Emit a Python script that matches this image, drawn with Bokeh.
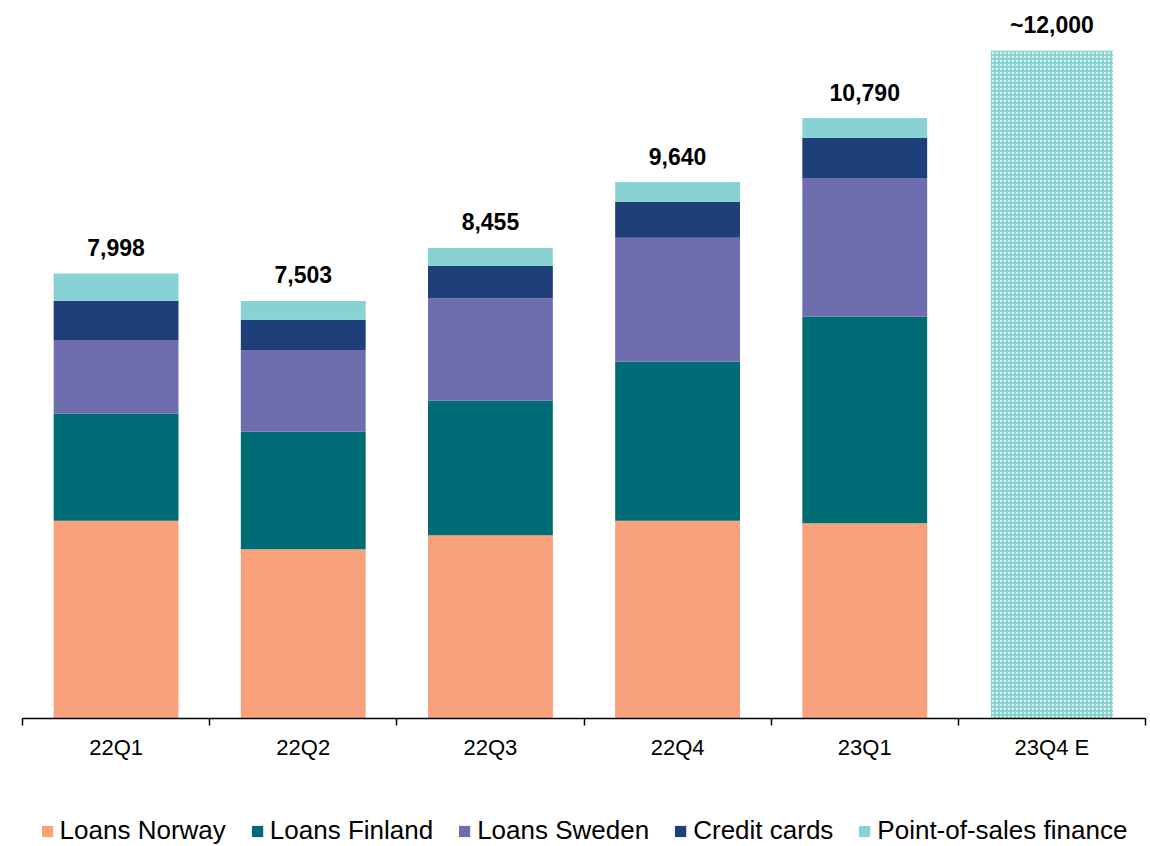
from bokeh.plotting import figure
from bokeh.models import Range1d, FixedTicker, Legend, LegendItem, ColumnDataSource
from bokeh.layouts import column
from bokeh.core.properties import value
from bokeh.embed import file_html
from bokeh.resources import INLINE

categories = ["22Q1", "22Q2", "22Q3", "22Q4", "23Q1", "23Q4 E"]
series_names = ["Loans Norway", "Loans Finland", "Loans Sweden", "Credit cards", "Point-of-sales finance"]
loans_norway = [3554, 3040, 3292, 3554, 3508]
loans_finland = [1923, 2113, 2419, 2857, 3712]
loans_sweden = [1324, 1468, 1840, 2228, 2492]
credit_cards = [706, 544, 580, 641, 719]
pos_finance = [491, 338, 324, 360, 359]
estimate_value = 12000
total_labels = ["7,998", "7,503", "8,455", "9,640", "10,790", "~12,000"]
totals = [7998, 7503, 8455, 9640, 10790, 12000]

colors = ["#F9A17B", "#006C75", "#6E6EAF", "#1F3F7A", "#88D2D3"]
FONT = "Liberation Sans"

n_actual = len(loans_norway)
xs = [i + 0.5 for i in range(len(categories))]

src = ColumnDataSource(dict(
    x=xs[:n_actual],
    s0=loans_norway, s1=loans_finland, s2=loans_sweden, s3=credit_cards, s4=pos_finance,
))

p = figure(frame_width=1123, frame_height=710, output_backend="svg", toolbar_location=None,
           x_range=Range1d(0, len(categories)), y_range=Range1d(0, 12758),
           y_axis_location=None, min_border_left=22, min_border_right=3,
           min_border_top=8, min_border_bottom=50)
p.outline_line_color = None
p.grid.visible = False
p.background_fill_color = "white"
p.border_fill_color = "white"

stack = p.vbar_stack(["s0", "s1", "s2", "s3", "s4"], x="x", width=0.667, source=src,
                     color=colors, line_color=None)

est = ColumnDataSource(dict(x=[xs[-1]], top=[estimate_value]))
p.vbar(x="x", top="top", width=0.652, source=est, fill_color="white", line_color=None,
       hatch_pattern="cross", hatch_color=colors[4], hatch_scale=4, hatch_weight=2.6)

lab = ColumnDataSource(dict(x=xs, y=totals, t=total_labels))
p.text(x="x", y="y", text="t", source=lab, text_align="center", text_baseline="middle",
       y_offset=-26, text_font=value(FONT), text_font_style="bold", text_font_size="23px",
       text_color="black")

ax = p.xaxis[0]
ax.ticker = FixedTicker(ticks=xs, minor_ticks=list(range(len(categories) + 1)))
ax.major_label_overrides = {x: c for x, c in zip(xs, categories)}
ax.major_tick_line_color = None
ax.major_tick_out = 7
ax.major_tick_in = 0
ax.minor_tick_line_color = "black"
ax.minor_tick_line_width = 1.5
ax.minor_tick_out = 7
ax.minor_tick_in = 0
ax.axis_line_color = "black"
ax.axis_line_width = 1.5
ax.major_label_standoff = 9
ax.major_label_text_font = FONT
ax.major_label_text_font_size = "22px"
ax.major_label_text_color = "black"

# legend strip below the chart (swatch renderers sit outside the visible range)
p2 = figure(width=1148, height=78, output_backend="svg", toolbar_location=None,
            x_range=Range1d(0, 1), y_range=Range1d(0, 1),
            x_axis_location=None, y_axis_location=None,
            min_border_left=22, min_border_right=3, min_border_top=0, min_border_bottom=0)
p2.outline_line_color = None
p2.grid.visible = False
items = []
for name, c in zip(series_names, colors):
    r = p2.vbar(x=[-10], top=[-10], width=0.1, fill_color=c, line_color=None)
    items.append(LegendItem(label=name, renderers=[r]))
legend = Legend(items=items, orientation="horizontal", location="bottom_center",
                border_line_color=None, background_fill_alpha=0,
                glyph_width=14, glyph_height=14, label_standoff=6, spacing=24,
                padding=0, margin=0,
                label_text_font=FONT, label_text_font_size="26px", label_text_color="black")
p2.add_layout(legend)

layout = column(p, p2, spacing=0)
open("out.html", "w").write(file_html(layout, INLINE))
